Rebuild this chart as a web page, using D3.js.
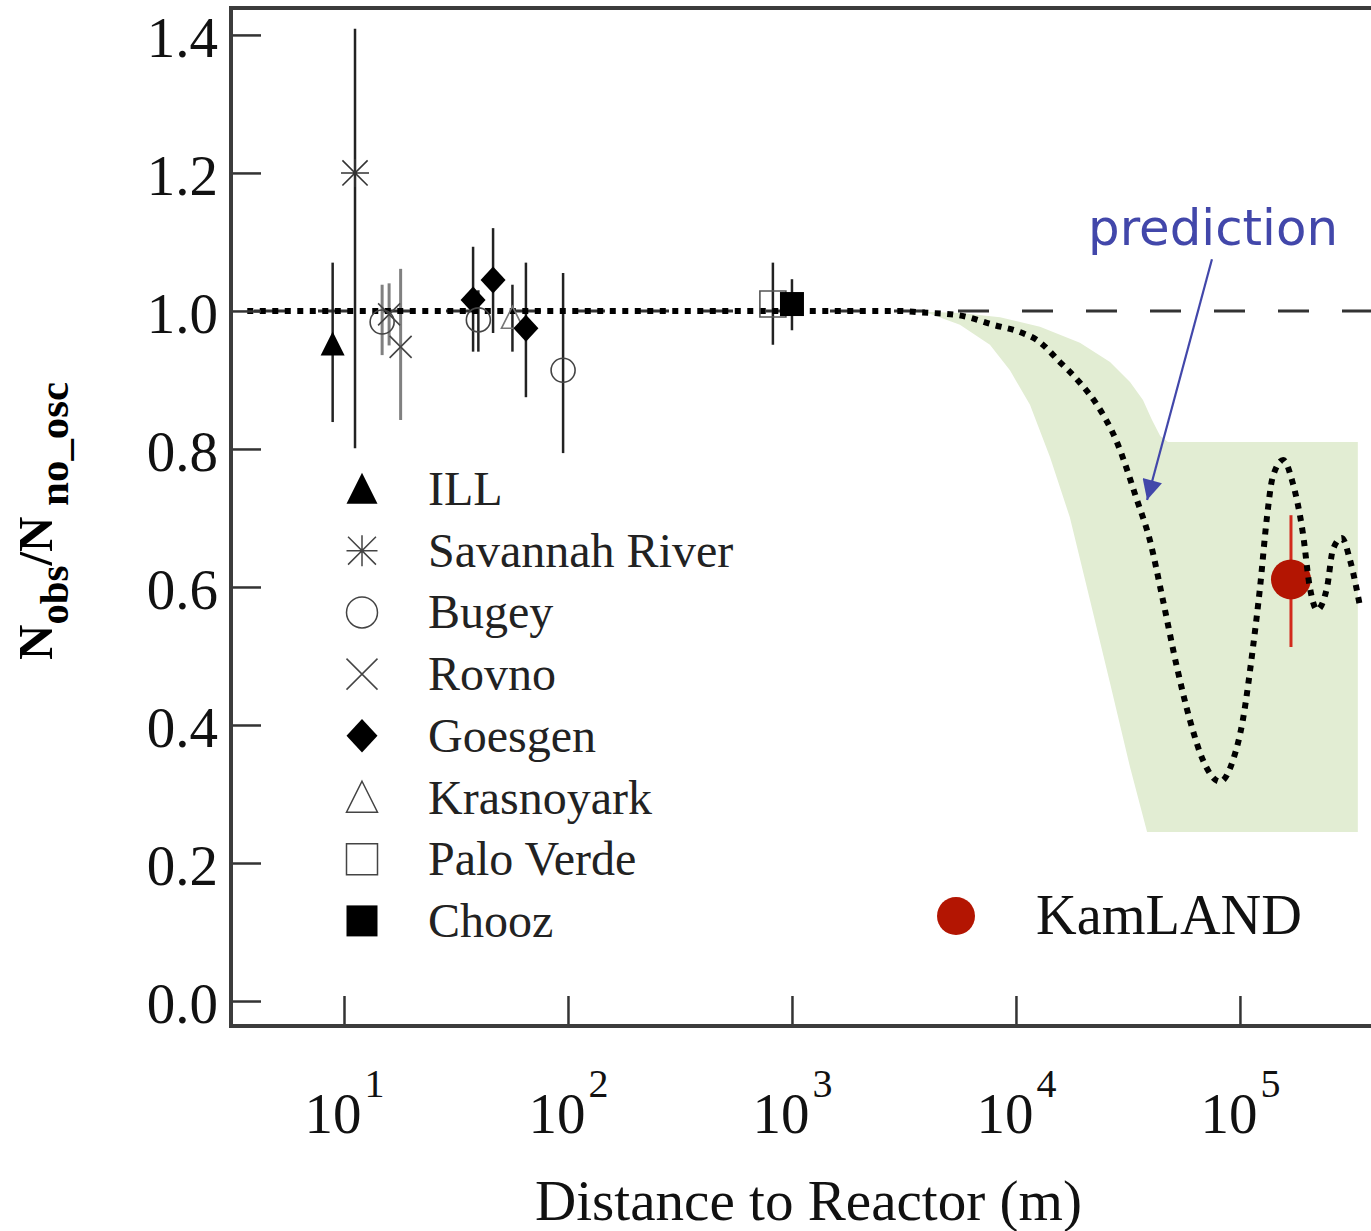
<!DOCTYPE html>
<html>
<head>
<meta charset="utf-8">
<script src="https://cdn.jsdelivr.net/npm/d3@7"></script>
<style>
  html, body { margin: 0; padding: 0; background: #fff; }
  svg { display: block; }
  text { font-family: "Liberation Serif", "Times New Roman", serif; }
  text.note { font-family: "DejaVu Sans", sans-serif; }
</style>
</head>
<body>
<svg id="chart" width="1371" height="1231"></svg>
<script>
// ---------------------------------------------------------------
// Data: reactor anti-neutrino rate ratios vs. distance to reactor
// ---------------------------------------------------------------
const experiments = ["ILL", "Savannah River", "Bugey", "Rovno", "Goesgen", "Krasnoyark", "Palo Verde", "Chooz"];

// individual measurements (distance in metres, observed / expected)
const pointExperiment = ["ILL", "Savannah River", "Bugey", "Rovno", "Rovno", "Goesgen", "Bugey", "Goesgen", "Krasnoyark", "Goesgen", "Bugey", "Palo Verde", "Chooz"];
const pointDistance   = [8.9,   11.2,  14.8,  15.9,  17.9,  37.7,  39.8,  46.3,  56.5,  64.9,  95.1,  822,   1000];
const pointRatio      = [0.952, 1.200, 0.984, 0.995, 0.948, 1.016, 0.987, 1.045, 0.990, 0.975, 0.914, 1.010, 1.010];
const pointLow        = [0.839, 0.801, 0.936, 0.950, 0.842, 0.941, 0.941, 0.968, 0.941, 0.875, 0.794, 0.951, 0.972];
const pointHigh       = [1.070, 1.409, 1.038, 1.040, 1.061, 1.093, 1.030, 1.120, 1.038, 1.070, 1.055, 1.070, 1.046];

// KamLAND result
const kamlandDistance = [169000];
const kamlandRatio    = [0.611];
const kamlandLow      = [0.513];
const kamlandHigh     = [0.704];

// oscillation prediction (best fit)
const predictionDistance = [3.7, 1000, 3030, 3725, 5510, 7890, 10700, 12400, 15700, 19300, 23000, 28300, 34700, 39600, 45300, 52300, 59800, 68400, 81500, 93100, 103000, 114000, 123000, 132000, 140000, 156000, 172000, 191000, 205000, 221000, 245000, 260000, 285000, 310000, 344000];
const predictionRatio    = [1.0, 1.0, 1.0, 0.998, 0.994, 0.980, 0.968, 0.958, 0.926, 0.896, 0.864, 0.809, 0.726, 0.668, 0.581, 0.484, 0.407, 0.349, 0.318, 0.349, 0.407, 0.509, 0.600, 0.701, 0.759, 0.784, 0.751, 0.678, 0.600, 0.567, 0.600, 0.654, 0.671, 0.639, 0.571];

// allowed region of the prediction (upper edge, then lower edge)
const bandUpperDistance = [3190, 5620, 8490, 12800, 19300, 26300, 32300, 36900, 40500, 44000, 47700, 336000];
const bandUpperRatio    = [1.0, 0.997, 0.991, 0.977, 0.954, 0.926, 0.897, 0.871, 0.842, 0.819, 0.810, 0.810];
const bandLowerDistance = [336000, 38500, 32300, 26300, 21400, 17400, 14200, 11550, 9400, 7650, 5620, 4130];
const bandLowerRatio    = [0.245, 0.245, 0.339, 0.461, 0.581, 0.701, 0.788, 0.864, 0.914, 0.951, 0.980, 0.996];

// axis ticks
const yTickValues    = [0.0, 0.2, 0.4, 0.6, 0.8, 1.0, 1.2, 1.4];
const xTickExponents = [1, 2, 3, 4, 5];

// annotation arrow (from label to curve), data coordinates
const arrowFrom = [75000, 1.075];
const arrowTo   = [38500, 0.726];

// ---------------------------------------------------------------
// Layout and scales
// ---------------------------------------------------------------
const plot = { left: 231, top: 8, right: 1380, bottom: 1026 };
const x = d3.scaleLog().domain([3.13, 4.22e5]).range([plot.left, plot.right]);
const y = d3.scaleLinear().domain([-0.0362, 1.439]).range([plot.bottom, plot.top]);

const svg = d3.select("#chart");
const defs = svg.append("defs");
defs.append("clipPath").attr("id", "plotClip")
  .append("rect").attr("x", plot.left).attr("y", plot.top)
  .attr("width", plot.right - plot.left).attr("height", plot.bottom - plot.top);

// ---------------------------------------------------------------
// Marker shapes (size = half width)
// ---------------------------------------------------------------
const symTriangle = { draw(c, s) { c.moveTo(0, -s * 1.05); c.lineTo(s, s * 0.95); c.lineTo(-s, s * 0.95); c.closePath(); } };
const symAsterisk = { draw(c, s) {
  const d = s * 0.9;
  c.moveTo(0, -s); c.lineTo(0, s); c.moveTo(-s, 0); c.lineTo(s, 0);
  c.moveTo(-d, -d); c.lineTo(d, d); c.moveTo(-d, d); c.lineTo(d, -d);
} };
const symCross   = { draw(c, s) { c.moveTo(-s, -s); c.lineTo(s, s); c.moveTo(-s, s); c.lineTo(s, -s); } };
const symCircle  = { draw(c, s) { c.moveTo(s, 0); c.arc(0, 0, s, 0, 2 * Math.PI); c.closePath(); } };
const symDiamond = { draw(c, s) { c.moveTo(0, -s * 1.08); c.lineTo(s, 0); c.lineTo(0, s * 1.08); c.lineTo(-s, 0); c.closePath(); } };
const symSquare  = { draw(c, s) { c.rect(-s, -s, 2 * s, 2 * s); } };

const markerStyle = {
  "ILL":            { type: symTriangle, fill: "#000", stroke: "none", size: 12 },
  "Savannah River": { type: symAsterisk, fill: "none", stroke: "#333", size: 14 },
  "Bugey":          { type: symCircle,   fill: "none", stroke: "#444", size: 12 },
  "Rovno":          { type: symCross,    fill: "none", stroke: "#444", size: 11 },
  "Goesgen":        { type: symDiamond,  fill: "#000", stroke: "none", size: 12.5 },
  "Krasnoyark":     { type: symTriangle, fill: "none", stroke: "#777", size: 11 },
  "Palo Verde":     { type: symSquare,   fill: "none", stroke: "#555", size: 13 },
  "Chooz":          { type: symSquare,   fill: "#000", stroke: "none", size: 12 }
};
const greyBarIndex = new Set([2, 3, 4]);

// ---------------------------------------------------------------
// Prediction band, reference line and prediction curve
// ---------------------------------------------------------------
const plotArea = svg.append("g").attr("clip-path", "url(#plotClip)");

const bandPoints = bandUpperDistance.map((d, i) => [d, bandUpperRatio[i]])
  .concat(bandLowerDistance.map((d, i) => [d, bandLowerRatio[i]]));
plotArea.append("path")
  .attr("d", d3.line().x(p => x(p[0])).y(p => y(p[1]))(bandPoints) + "Z")
  .attr("fill", "#e2edd3")
  .attr("stroke", "none");

// no-oscillation reference at ratio 1
plotArea.append("line")
  .attr("x1", x.range()[0]).attr("x2", x.range()[1])
  .attr("y1", y(1)).attr("y2", y(1))
  .attr("stroke", "#333").attr("stroke-width", 3)
  .attr("stroke-dasharray", "31 33").attr("stroke-dashoffset", 41);

// error bars of the reactor experiments
const pts = pointExperiment.map((e, i) => ({
  exp: e, d: pointDistance[i], r: pointRatio[i], lo: pointLow[i], hi: pointHigh[i], i
}));

plotArea.append("g").selectAll("line").data(pts).join("line")
  .attr("x1", p => x(p.d)).attr("x2", p => x(p.d))
  .attr("y1", p => y(p.lo)).attr("y2", p => y(p.hi))
  .attr("stroke", p => greyBarIndex.has(p.i) ? "#808080" : "#222")
  .attr("stroke-width", p => greyBarIndex.has(p.i) ? 3 : 2.5);

// KamLAND point (drawn below the curve)
const kam = kamlandDistance.map((d, i) => ({ d, r: kamlandRatio[i], lo: kamlandLow[i], hi: kamlandHigh[i] }));
plotArea.append("g").selectAll("line").data(kam).join("line")
  .attr("x1", p => x(p.d)).attr("x2", p => x(p.d))
  .attr("y1", p => y(p.lo)).attr("y2", p => y(p.hi))
  .attr("stroke", "#d22a1c").attr("stroke-width", 3);
plotArea.append("g").selectAll("circle").data(kam).join("circle")
  .attr("cx", p => x(p.d)).attr("cy", p => y(p.r)).attr("r", 20)
  .attr("fill", "#b31502");

// prediction curve, dotted
const predLine = d3.line()
  .x((d, i) => x(predictionDistance[i]))
  .y((d, i) => y(predictionRatio[i]))
  .curve(d3.curveMonotoneX);
plotArea.append("path")
  .attr("d", predLine(predictionRatio))
  .attr("fill", "none")
  .attr("stroke", "#000").attr("stroke-width", 6)
  .attr("stroke-dasharray", "6 6.5");

// experiment markers
plotArea.append("g").selectAll("path").data(pts).join("path")
  .attr("transform", p => `translate(${x(p.d)},${y(p.r)})`)
  .attr("d", p => d3.symbol().type(markerStyle[p.exp].type).size(markerStyle[p.exp].size)())
  .attr("fill", p => markerStyle[p.exp].fill)
  .attr("stroke", p => markerStyle[p.exp].stroke)
  .attr("stroke-width", 1.6);

// ---------------------------------------------------------------
// Axes and frame
// ---------------------------------------------------------------
const yAxis = svg.append("g")
  .attr("transform", `translate(${plot.left},0)`)
  .call(d3.axisLeft(y).tickValues(yTickValues).tickSize(-30).tickPadding(13).tickFormat(d3.format(".1f")));
yAxis.select(".domain").remove();
yAxis.selectAll(".tick line").attr("stroke", "#333").attr("stroke-width", 2.5);
yAxis.selectAll(".tick text")
  .style("font-family", "'Liberation Serif', serif")
  .attr("font-size", 57).attr("fill", "#111").attr("dy", "0.38em");

const xAxis = svg.append("g")
  .attr("transform", `translate(0,${plot.bottom})`)
  .call(d3.axisBottom(x).tickValues(xTickExponents.map(e => Math.pow(10, e))).tickSize(-30).tickFormat(""));
xAxis.select(".domain").remove();
xAxis.selectAll(".tick line").attr("stroke", "#333").attr("stroke-width", 2.5);
xAxis.selectAll(".tick text").remove();
xAxis.selectAll(".tick").each(function (d) {
  const t = d3.select(this).append("text")
    .attr("y", 107).attr("text-anchor", "middle")
    .style("font-family", "'Liberation Serif', serif").attr("fill", "#111");
  t.append("tspan").attr("font-size", 57).text("10");
  t.append("tspan").attr("font-size", 40).attr("dx", 3).attr("dy", -36).text(String(Math.round(Math.log10(d))));
});

// frame: top, left and bottom edges (right edge lies beyond the page)
svg.append("path")
  .attr("d", `M${plot.right},${plot.top}H${plot.left}V${plot.bottom}H${plot.right}`)
  .attr("fill", "none").attr("stroke", "#3c3c3c").attr("stroke-width", 4);

// axis titles
svg.append("text")
  .attr("x", 535).attr("y", 1220)
  .attr("font-size", 57).attr("fill", "#111")
  .attr("textLength", 547).attr("lengthAdjust", "spacingAndGlyphs")
  .text("Distance to Reactor (m)");

const yTitle = svg.append("text")
  .attr("transform", "translate(52,521) rotate(-90)")
  .attr("text-anchor", "middle")
  .attr("font-weight", "bold").attr("fill", "#000")
  .attr("textLength", 278).attr("lengthAdjust", "spacingAndGlyphs");
yTitle.append("tspan").attr("font-size", 48).text("N");
yTitle.append("tspan").attr("font-size", 40).attr("dy", 16).text("obs");
yTitle.append("tspan").attr("font-size", 48).attr("dy", -16).text("/N");
yTitle.append("tspan").attr("font-size", 42).attr("dy", 16).text("\u00a0no_osc");

// ---------------------------------------------------------------
// Legend
// ---------------------------------------------------------------
const legend = svg.append("g").attr("transform", "translate(362,489)");
const legendRow = legend.selectAll("g").data(experiments).join("g")
  .attr("transform", (d, i) => `translate(0,${i * 61.7})`);
legendRow.append("path")
  .attr("d", d => d3.symbol().type(markerStyle[d].type).size(15.5)())
  .attr("fill", d => markerStyle[d].fill)
  .attr("stroke", d => markerStyle[d].stroke === "none" ? "none" : "#444")
  .attr("stroke-width", 1.5);
legendRow.append("text")
  .attr("x", 66).attr("y", 16)
  .attr("font-size", 48).attr("fill", "#222")
  .text(d => d);

// KamLAND legend entry
const kamLegend = svg.append("g").attr("transform", "translate(956,916)");
kamLegend.append("circle").attr("r", 19).attr("fill", "#b31502");
kamLegend.append("text")
  .attr("x", 80).attr("y", 18)
  .attr("font-size", 57).attr("fill", "#111")
  .attr("textLength", 266).attr("lengthAdjust", "spacingAndGlyphs")
  .text("KamLAND");

// ---------------------------------------------------------------
// "prediction" annotation
// ---------------------------------------------------------------
const noteBlue = "#4247aa";
defs.append("marker")
  .attr("id", "arrowHead")
  .attr("viewBox", "0 0 10 10").attr("refX", 10).attr("refY", 5)
  .attr("markerUnits", "userSpaceOnUse")
  .attr("markerWidth", 22).attr("markerHeight", 20)
  .attr("orient", "auto")
  .append("path").attr("d", "M0,0L10,5L0,10Z").attr("fill", noteBlue);

svg.append("line")
  .attr("x1", x(arrowFrom[0])).attr("y1", y(arrowFrom[1]))
  .attr("x2", x(arrowTo[0])).attr("y2", y(arrowTo[1]))
  .attr("stroke", noteBlue).attr("stroke-width", 2.2)
  .attr("marker-end", "url(#arrowHead)");

svg.append("text")
  .attr("class", "note")
  .attr("x", 1088).attr("y", 245)
  .attr("font-size", 50).attr("fill", noteBlue)
  .attr("textLength", 250).attr("lengthAdjust", "spacingAndGlyphs")
  .text("prediction");
</script>
</body>
</html>
